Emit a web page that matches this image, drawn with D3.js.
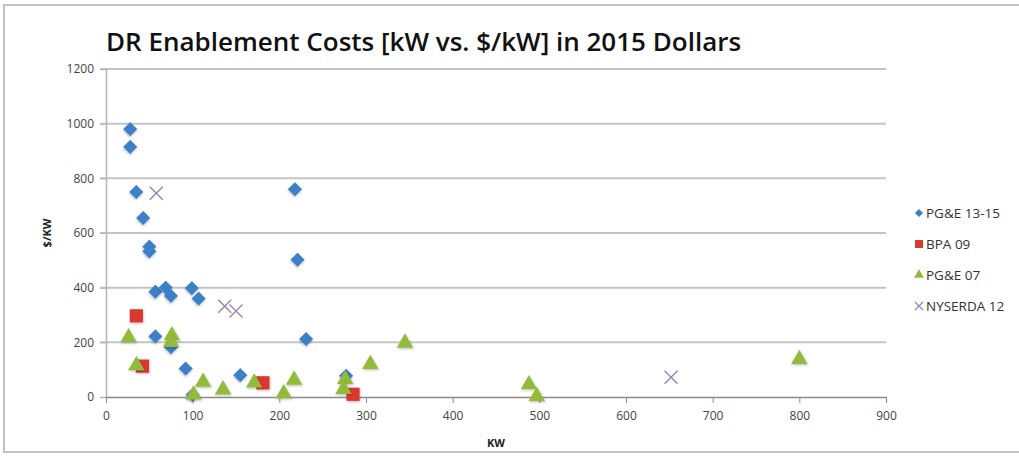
<!DOCTYPE html>
<html>
<head>
<meta charset="utf-8">
<script src="https://cdn.jsdelivr.net/npm/d3@7"></script>
<style>
  html, body { margin: 0; padding: 0; background: #fff; }
  svg { display: block; }
</style>
</head>
<body>
<svg id="chart" width="1019" height="459"></svg>
<script>
// ---- data ----
const titleText = "DR Enablement Costs [kW vs. $/kW] in 2015 Dollars";
const xTicks = [0, 100, 200, 300, 400, 500, 600, 700, 800, 900];
const yTicks = [0, 200, 400, 600, 800, 1000, 1200];
const seriesNames = ["PG&E 13-15", "BPA 09", "PG&E 07", "NYSERDA 12"];

const pge1315 = [
  [28, 980], [28, 915], [35, 750], [43, 655], [50, 550], [50, 533],
  [57, 385], [69, 400], [75, 370], [99, 398], [107, 360],
  [57, 222], [75, 182], [92, 104], [100, 8], [155, 80],
  [218, 760], [221, 502], [231, 212], [277, 78]
];
const bpa09 = [[35, 297], [42, 113], [181, 52], [285, 10]];
const pge07 = [
  [26, 218], [35, 115], [76, 225], [75, 200], [101, 8], [112, 55],
  [135, 27], [171, 52], [205, 13], [217, 62], [276, 65], [274, 28],
  [305, 120], [345, 198], [488, 46], [497, 3], [800, 138]
];
const nyserda12 = [[58, 745], [137, 332], [150, 315], [652, 72]];

// ---- layout ----
const svg = d3.select("#chart");
const mLeft = 106, mRight = 886, mTop = 69, mBottom = 397;

const x = d3.scaleLinear().domain([0, 900]).range([mLeft, mRight]);
const y = d3.scaleLinear().domain([0, 1200]).range([mBottom, mTop]);

const colors = { blue: "#3c80c8", red: "#da392e", green: "#92bb3b", purple: "#9882b6" };

// defs: subtle shadow
const defs = svg.append("defs");
const f = defs.append("filter").attr("id", "sh").attr("x", "-50%").attr("y", "-50%").attr("width", "200%").attr("height", "200%");
f.append("feDropShadow").attr("dx", 0.8).attr("dy", 1.2).attr("stdDeviation", 0.9).attr("flood-color", "#000").attr("flood-opacity", 0.25);

// outer frame
svg.append("rect").attr("x", 4).attr("y", 5).attr("width", 1030).attr("height", 447)
  .attr("fill", "#fff").attr("stroke", "#c2c2c2").attr("stroke-width", 2);

// title
svg.append("text").attr("x", mLeft).attr("y", 51)
  .attr("font-family", "'Open Sans', sans-serif").attr("font-size", 26).attr("font-weight", 600)
  .attr("fill", "#111").text(titleText);

// gridlines
svg.append("g").selectAll("line").data(yTicks.filter(d => d > 0)).join("line")
  .attr("x1", mLeft - 6).attr("x2", mRight)
  .attr("y1", d => y(d)).attr("y2", d => y(d))
  .attr("stroke", "#c4c4c4").attr("stroke-width", 2);

// y axis
const yAxis = svg.append("g").attr("transform", `translate(${mLeft},0)`)
  .call(d3.axisLeft(y).tickValues(yTicks).tickSize(6).tickPadding(6).tickFormat(d3.format("d")));
yAxis.select(".domain").attr("stroke", "#b5b5b5").attr("stroke-width", 1.5);
yAxis.selectAll(".tick line").attr("stroke", "#b5b5b5");
yAxis.selectAll("text").attr("font-family", "'Liberation Sans Narrow', 'Open Sans', sans-serif")
  .attr("font-size", 12).attr("fill", "#444");

// x axis
const xAxis = svg.append("g").attr("transform", `translate(0,${mBottom})`)
  .call(d3.axisBottom(x).tickValues(xTicks).tickSize(6).tickSizeOuter(0).tickPadding(8).tickFormat(d3.format("d")));
xAxis.select(".domain").attr("stroke", "#8c8c8c").attr("stroke-width", 1.5);
xAxis.selectAll(".tick line").attr("stroke", "#8c8c8c");
xAxis.selectAll("text").attr("font-family", "'Liberation Sans Narrow', 'Open Sans', sans-serif")
  .attr("font-size", 12).attr("fill", "#444");

// axis titles
svg.append("text").attr("x", (mLeft + mRight) / 2).attr("y", 447).attr("text-anchor", "middle")
  .attr("font-family", "'Open Sans', sans-serif").attr("font-size", 11).attr("font-weight", 700)
  .attr("fill", "#222").text("KW");
svg.append("text").attr("transform", `translate(51,${(mTop + mBottom) / 2}) rotate(-90)`)
  .attr("text-anchor", "middle")
  .attr("font-family", "'Open Sans', sans-serif").attr("font-size", 11).attr("font-weight", 700)
  .attr("fill", "#222").text("$/KW");

// markers
const diamond = d3.symbol().type(d3.symbolSquare).size(100);
const square = d3.symbol().type(d3.symbolSquare).size(175);
const triangle = d3.symbol().type(d3.symbolTriangle).size(118);
const crossPath = s => `M${-s},${-s}L${s},${s}M${-s},${s}L${s},${-s}`;

const plot = svg.append("g");

plot.append("g").selectAll("path").data(pge1315).join("path")
  .attr("d", diamond)
  .attr("transform", d => `translate(${x(d[0])},${y(d[1])}) rotate(45)`)
  .attr("fill", colors.blue).attr("filter", "url(#sh)");

plot.append("g").selectAll("path").data(bpa09).join("path")
  .attr("d", square)
  .attr("transform", d => `translate(${x(d[0])},${y(d[1])})`)
  .attr("fill", colors.red).attr("filter", "url(#sh)");

plot.append("g").selectAll("path").data(pge07).join("path")
  .attr("d", triangle)
  .attr("transform", d => `translate(${x(d[0])},${y(d[1])})`)
  .attr("fill", colors.green).attr("filter", "url(#sh)");

plot.append("g").selectAll("path").data(nyserda12).join("path")
  .attr("d", crossPath(6.5))
  .attr("transform", d => `translate(${x(d[0])},${y(d[1])})`)
  .attr("fill", "none").attr("stroke", colors.purple).attr("stroke-width", 1.4);

// legend
const legendY = [213, 244, 275, 306];
const lg = svg.append("g");
const legendMarkers = [
  g => g.append("path").attr("d", d3.symbol().type(d3.symbolSquare).size(34)()).attr("transform", "rotate(45)").attr("fill", colors.blue),
  g => g.append("path").attr("d", d3.symbol().type(d3.symbolSquare).size(64)()).attr("fill", colors.red),
  g => g.append("path").attr("d", d3.symbol().type(d3.symbolTriangle).size(42)()).attr("fill", colors.green),
  g => g.append("path").attr("d", crossPath(4)).attr("fill", "none").attr("stroke", colors.purple).attr("stroke-width", 1.2)
];
seriesNames.forEach((name, i) => {
  const g = lg.append("g").attr("transform", `translate(919,${legendY[i]})`);
  legendMarkers[i](g);
  g.append("text").attr("x", 7).attr("y", 5)
    .attr("font-family", "'Open Sans', sans-serif").attr("font-size", 13.5)
    .attr("fill", "#333").text(name);
});
</script>
</body>
</html>
